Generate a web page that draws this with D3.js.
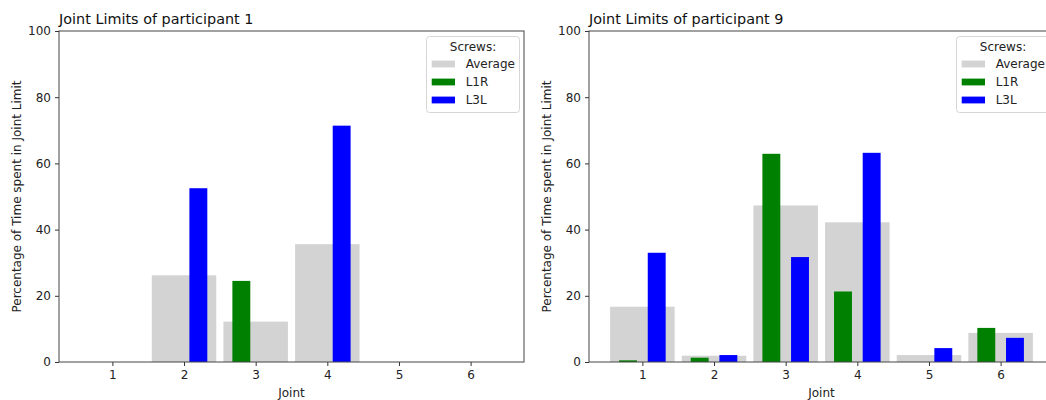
<!DOCTYPE html>
<html lang="en">
<head>
  <meta charset="UTF-8">
  <title>Joint Limits</title>
  <script src="https://d3js.org/d3.v7.min.js"></script>
  <style>
    body { margin: 0; background: white; }
    svg { display: block; font-family: "DejaVu Sans", sans-serif; }
  </style>
</head>
<body>
  <svg width="1046" height="400"></svg>

  <script>
    // Data
    const joints = [1, 2, 3, 4, 5, 6];
    const yTicks = [0, 20, 40, 60, 80, 100];
    const legendLabels = ["Average", "L1R", "L3L"];
    const colors = ["#d3d3d3", "#008000", "#0000ff"];

    const p1Average = [0, 26.2, 12.2, 35.6, 0, 0];
    const p1L1R = [0, 0, 24.5, 0, 0, 0];
    const p1L3L = [0, 52.5, 0, 71.4, 0, 0];

    const p9Average = [16.7, 1.9, 47.3, 42.2, 2.1, 8.8];
    const p9L1R = [0.5, 1.3, 62.9, 21.3, 0, 10.3];
    const p9L3L = [33.0, 2.1, 31.7, 63.2, 4.2, 7.3];

    const panels = [
      { title: "Joint Limits of participant 1", left: 59, series: [p1Average, p1L1R, p1L3L] },
      { title: "Joint Limits of participant 9", left: 589, series: [p9Average, p9L1R, p9L3L] }
    ];

    // bar offsets / widths in joint units
    const offsets = [0, -0.2, 0.2];
    const widths = [0.9, 0.25, 0.25];

    const svg = d3.select("svg");
    const plotW = 465, plotTop = 31, plotBottom = 362;
    const fs = 12;

    panels.forEach(p => {
      const g = svg.append("g").attr("transform", "translate(" + p.left + ",0)");

      const x = d3.scaleLinear().domain([0.255, 6.745]).range([0, plotW]);
      const y = d3.scaleLinear().domain([0, 100]).range([plotBottom, plotTop]);

      // bars
      p.series.forEach((vals, s) => {
        g.selectAll(".bar" + s)
          .data(vals)
          .enter()
          .append("rect")
          .attr("x", (d, i) => x(joints[i] + offsets[s] - widths[s] / 2))
          .attr("width", x(widths[s]) - x(0))
          .attr("y", d => y(d))
          .attr("height", d => y(0) - y(d))
          .attr("fill", colors[s]);
      });

      // axes
      const xAxis = g.append("g")
        .attr("transform", "translate(0," + plotBottom + ")")
        .call(d3.axisBottom(x).tickValues(joints).tickFormat(d3.format("d")).tickSize(4).tickPadding(4));
      const yAxis = g.append("g")
        .call(d3.axisLeft(y).tickValues(yTicks).tickFormat(d3.format("d")).tickSize(4).tickPadding(4));
      [xAxis, yAxis].forEach(a => {
        a.select(".domain").remove();
        a.selectAll("text").attr("font-size", fs).attr("font-family", "DejaVu Sans").attr("fill", "#222");
        a.selectAll("line").attr("stroke", "#333").attr("stroke-width", 1);
      });

      // frame
      g.append("rect")
        .attr("x", 0).attr("y", plotTop)
        .attr("width", plotW).attr("height", plotBottom - plotTop)
        .attr("fill", "none").attr("stroke", "#444").attr("stroke-width", 1);

      // title and labels
      g.append("text").attr("x", 0).attr("y", plotTop - 7)
        .attr("font-size", 14.4).attr("fill", "#111").text(p.title);
      g.append("text").attr("x", plotW / 2).attr("y", 397)
        .attr("text-anchor", "middle").attr("font-size", fs).attr("fill", "#222").text("Joint");
      g.append("text")
        .attr("transform", "translate(" + (-38) + "," + ((plotTop + plotBottom) / 2) + ") rotate(-90)")
        .attr("text-anchor", "middle").attr("font-size", fs).attr("fill", "#222")
        .text("Percentage of Time spent in Joint Limit");

      // legend
      const lg = g.append("g").attr("transform", "translate(" + (plotW - 98) + ",36)");
      lg.append("rect").attr("x", 0.5).attr("y", 0.5).attr("width", 93).attr("height", 76).attr("rx", 3)
        .attr("fill", "white").attr("fill-opacity", 0.8)
        .attr("stroke", "#d6d6d6").attr("stroke-width", 1);
      lg.append("text").attr("x", 47).attr("y", 14.7).attr("text-anchor", "middle")
        .attr("font-size", fs).attr("fill", "#222").text("Screws:");
      legendLabels.forEach((lab, i) => {
        const cy = 28 + i * 18;
        lg.append("rect").attr("x", 5.7).attr("y", cy - 3.4).attr("width", 23.3).attr("height", 6.8)
          .attr("fill", colors[i]);
        lg.append("text").attr("x", 39.7).attr("y", cy + 4.3)
          .attr("font-size", fs).attr("fill", "#222").text(lab);
      });
    });
  </script>
</body>
</html>
